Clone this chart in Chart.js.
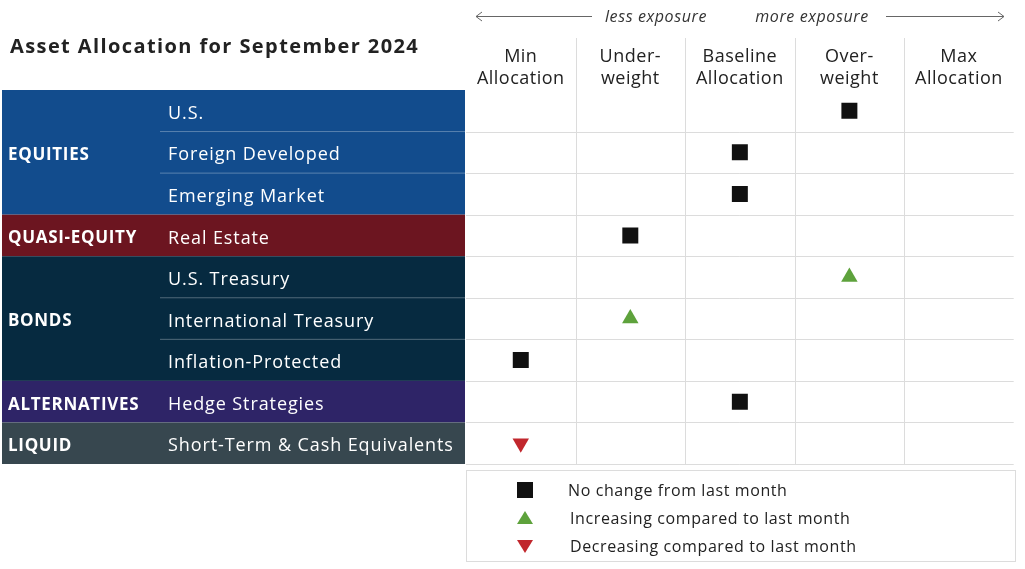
<!DOCTYPE html>
<html><head><meta charset="utf-8">
<script src="https://cdn.jsdelivr.net/npm/chart.js@4"></script>
<style>html,body{margin:0;padding:0;background:#fff}#w{width:1025px;height:569px}</style>
</head><body><div id="w"><canvas id="c"></canvas></div>
<script>
const title = "Asset Allocation for September 2024";
const columns = [["Min","Allocation"],["Under-","weight"],["Baseline","Allocation"],["Over-","weight"],["Max","Allocation"]];
const assets = ["U.S.","Foreign Developed","Emerging Market","Real Estate","U.S. Treasury","International Treasury","Inflation-Protected","Hedge Strategies","Short-Term & Cash Equivalents"];
const allocation = [3,2,2,1,3,1,0,2,0];
const change = ["same","same","same","same","up","up","same","same","down"];
const groups = ["EQUITIES","QUASI-EQUITY","BONDS","ALTERNATIVES","LIQUID"];
const groupRows = [[0,3],[3,4],[4,7],[7,8],[8,9]];
const groupColors = ["#124c8d","#6c1520","#062a40","#2e2467","#37474f"];
const legendText = ["No change from last month","Increasing compared to last month","Decreasing compared to last month"];

const FONT = "'Open Sans', sans-serif";
const styles = {same:{s:'rect',c:'#111',r:11.3,rot:0},up:{s:'triangle',c:'#5ea23c',r:9.5,rot:0},down:{s:'triangle',c:'#c1272d',r:9.5,rot:180}};
const pts = assets.map((a,i)=>({x:allocation[i]+0.5,y:i+0.5}));

const deco = {
  id:'deco',
  beforeDatasetsDraw(ch){
    const ctx=ch.ctx, xs=ch.scales.x, ys=ch.scales.y, a=ch.chartArea;
    ctx.save();
    ctx.letterSpacing='0.7px';
    groupRows.forEach((g,gi)=>{
      const y0=ys.getPixelForValue(g[0]), y1=ys.getPixelForValue(g[1]);
      ctx.fillStyle=groupColors[gi]; ctx.fillRect(2,y0,a.left-2-1,y1-y0);
      ctx.fillStyle='#fff'; ctx.font="bold 17px "+FONT; ctx.textBaseline='middle'; ctx.textAlign='left';
      ctx.fillText(groups[gi],8,(y0+y1)/2+3);
      for(let r=g[0]+1;r<g[1];r++){const y=ys.getPixelForValue(r);ctx.strokeStyle='rgba(255,255,255,0.3)';ctx.lineWidth=1;ctx.beginPath();ctx.moveTo(160,y);ctx.lineTo(a.left-1,y);ctx.stroke();}
    });
    ctx.fillStyle='#fff'; ctx.font="18px "+FONT; ctx.letterSpacing='0.9px';
    assets.forEach((t,i)=>ctx.fillText(t,168,ys.getPixelForValue(i+0.5)+3));
    ctx.strokeStyle='#dcdcdc'; ctx.lineWidth=1;
    for(let r=1;r<=9;r++){const y=Math.round(ys.getPixelForValue(r))+0.5;ctx.beginPath();ctx.moveTo(a.left,y);ctx.lineTo(a.right,y);ctx.stroke();}
    for(let c=1;c<5;c++){const x=Math.round(xs.getPixelForValue(c))+0.5;ctx.beginPath();ctx.moveTo(x,38);ctx.lineTo(x,a.bottom);ctx.stroke();}
    ctx.fillStyle='#222'; ctx.textAlign='center'; ctx.font="18px "+FONT; ctx.letterSpacing='0.5px';
    columns.forEach((c,i)=>{const x=xs.getPixelForValue(i+0.5);ctx.fillText(c[0],x,57);ctx.fillText(c[1],x,79);});
    ctx.textAlign='left'; ctx.font="bold 20px "+FONT; ctx.letterSpacing='1.4px'; ctx.fillText(title,10,47);
    ctx.font="italic 16px "+FONT; ctx.fillStyle='#333'; ctx.letterSpacing='0.6px';
    ctx.textAlign='center'; ctx.fillText("less exposure",656,17); ctx.fillText("more exposure",812,17);
    ctx.strokeStyle='#666'; ctx.lineWidth=1;
    [[476,592],[886,1004]].forEach(([x0,x1])=>{ctx.beginPath();ctx.moveTo(x0,16.5);ctx.lineTo(x1,16.5);ctx.stroke();});
    ctx.beginPath();ctx.moveTo(482,12);ctx.lineTo(476,16.5);ctx.lineTo(482,21);ctx.stroke();
    ctx.beginPath();ctx.moveTo(998,12);ctx.lineTo(1004,16.5);ctx.lineTo(998,21);ctx.stroke();
    ctx.strokeStyle='#dcdcdc'; ctx.strokeRect(466.5,470.5,549,91);
    const ly=[490,518,546], keys=['same','up','down'];
    keys.forEach((k,i)=>{
      const st=styles[k]; ctx.fillStyle=st.c; const x=525,y=ly[i];
      if(k==='same') ctx.fillRect(x-8,y-8,16,16);
      else if(k==='up'){ctx.beginPath();ctx.moveTo(x,y-7);ctx.lineTo(x+8,y+6);ctx.lineTo(x-8,y+6);ctx.fill();}
      else {ctx.beginPath();ctx.moveTo(x,y+7);ctx.lineTo(x+8,y-6);ctx.lineTo(x-8,y-6);ctx.fill();}
      ctx.fillStyle='#222'; ctx.font="16px "+FONT; ctx.letterSpacing='0.6px'; ctx.textAlign='left'; ctx.textBaseline='middle';
      ctx.fillText(legendText[i], k==='same'?568:570, y+1);
    });
    ctx.restore();
  }
};

new Chart(document.getElementById('c'),{
  type:'scatter',
  data:{datasets:[{data:pts,
    pointStyle:change.map(c=>styles[c].s),
    backgroundColor:change.map(c=>styles[c].c),
    borderColor:change.map(c=>styles[c].c),
    pointRadius:change.map(c=>styles[c].r),
    rotation:change.map(c=>styles[c].rot),
    borderWidth:0}]},
  options:{responsive:true,maintainAspectRatio:false,animation:false,
    layout:{padding:{left:466,top:90,right:9,bottom:105}},
    plugins:{legend:{display:false},tooltip:{enabled:false}},
    scales:{x:{min:0,max:5,display:false},y:{min:0,max:9,reverse:true,display:false}}},
  plugins:[deco]
});
</script></body></html>
